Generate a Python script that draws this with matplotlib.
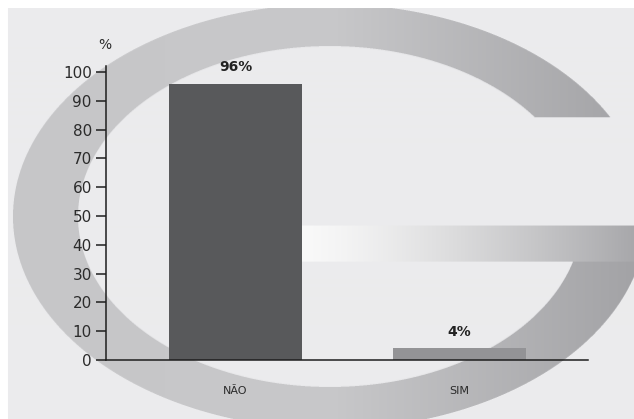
import numpy as np
import matplotlib
matplotlib.use("Agg")
import matplotlib.pyplot as plt

# Survey answers and their shares (%)
categories = ["NÃO", "SIM"]
values = [96, 4]
value_labels = ["96%", "4%"]
yticks = [0, 10, 20, 30, 40, 50, 60, 70, 80, 90, 100]

W, H = 634, 419
DPI = 100

# ---- background panel with the big grey "G" watermark ----
ss = 3  # supersampling for smoother edges
yy, xx = np.mgrid[0:H * ss, 0:W * ss]
xx = (xx + 0.5) / ss
yy = (yy + 0.5) / ss

cx, cy = 330.0, 217.0
outer = ((xx - cx) / 317.0) ** 2 + ((yy - cy) / 212.0) ** 2 <= 1.0
inner = ((xx - cx) / 252.0) ** 2 + ((yy - cy) / 170.0) ** 2 < 1.0
cut = (xx > cx) & (yy > 118) & (yy < 262)
ring = outer & ~inner & ~cut
crossbar = (xx >= 302) & (yy >= 226) & (yy <= 262)
panel = (xx >= 8) & (yy >= 9)

bg = np.array([235, 235, 237]) / 255.0
img = np.ones((H * ss, W * ss, 3))
img[panel] = bg

# ring shading: light on the left, darker towards the right
t = np.clip(xx / W, 0, 1)
ring_left = np.array([198, 198, 200]) / 255.0
ring_mid = np.array([200, 200, 202]) / 255.0
ring_right = np.array([163, 163, 166]) / 255.0
tt = t[..., None]
ring_col = np.where(tt < 0.52,
                    ring_left + (ring_mid - ring_left) * (tt / 0.52),
                    ring_mid + (ring_right - ring_mid) * ((tt - 0.52) / 0.48))
m = ring & panel
img[m] = ring_col[m]

# crossbar fades from near white to the ring grey
u = np.clip((xx - 302) / (W - 302), 0, 1)[..., None]
bar_light = np.array([249, 249, 249]) / 255.0
bar_dark = np.array([168, 168, 171]) / 255.0
bar_col = bar_light + (bar_dark - bar_light) * u ** 1.3
m = crossbar & panel
img[m] = bar_col[m]

img = img.reshape(H, ss, W, ss, 3).mean(axis=(1, 3))

fig = plt.figure(figsize=(W / DPI, H / DPI), dpi=DPI)
bg_ax = fig.add_axes([0, 0, 1, 1], zorder=0)
bg_ax.imshow(img, extent=(0, W, H, 0), interpolation="bilinear", aspect="auto")
bg_ax.set_xlim(0, W)
bg_ax.set_ylim(H, 0)
bg_ax.axis("off")

# ---- bar chart ----
left_px, right_px, bottom_px, top_px = 106, 588, 360, 66
ax = fig.add_axes([left_px / W, 1 - bottom_px / H,
                   (right_px - left_px) / W, (bottom_px - top_px) / H], zorder=1)
ax.patch.set_alpha(0)

x = np.arange(len(categories))
bar_colors = ["#58595b", "#939396"]
ax.bar(x, values, width=0.594, color=bar_colors, zorder=2)

ax.set_xlim(-0.578, 1.574)
ax.set_ylim(0, 102.1)
ax.set_yticks(yticks)
ax.set_yticklabels([str(v) for v in yticks], fontsize=11, color="#2b2b2b")
ax.set_xticks(x)
ax.set_xticklabels(categories, fontsize=8, color="#2b2b2b")

for i, (v, lab) in enumerate(zip(values, value_labels)):
    ax.annotate(lab, (x[i], v), xytext=(0, 7), textcoords="offset points",
                ha="center", va="bottom", fontsize=10, fontweight="bold",
                color="#222222")

for side in ["top", "right"]:
    ax.spines[side].set_visible(False)
for side in ["left", "bottom"]:
    ax.spines[side].set_color("#1e1e1e")
    ax.spines[side].set_linewidth(1.1)

ax.tick_params(axis="y", direction="out", length=7.2, width=1.1,
               color="#1e1e1e", pad=3)
ax.tick_params(axis="x", length=0, pad=19)

fig.text(105 / W, 1 - 45 / H, "%", ha="center", va="center",
         fontsize=10, color="#2b2b2b")

fig.savefig("out.png", dpi=DPI)
